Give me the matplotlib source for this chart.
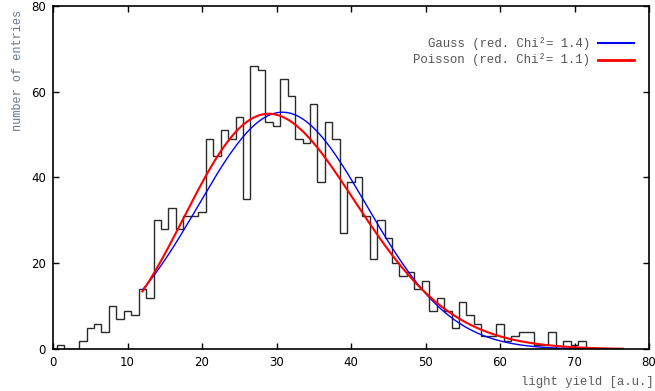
import numpy as np
import matplotlib
matplotlib.use("Agg")
import matplotlib.pyplot as plt
from matplotlib.lines import Line2D
from math import lgamma, log, exp

# ---- data ----
bin_centers = list(range(0, 72))
counts = [0, 1, 0, 0, 2, 5, 6, 4, 10, 7, 9, 8, 14, 12, 30, 28, 33, 28, 31, 31,
          32, 49, 45, 51, 49, 54, 35, 66, 65, 53, 52, 63, 59, 49, 48, 57, 39, 53,
          49, 27, 39, 40, 31, 21, 30, 26, 20, 17, 18, 14, 16, 9, 12, 9, 5, 11,
          8, 6, 3, 3, 6, 2, 3, 4, 4, 1, 1, 4, 0, 2, 1, 2]

# fit model parameters (estimated from the drawn curves)
gauss_amp = 55.2
gauss_mean = 30.8
gauss_sigma = 11.3
poisson_norm = 1550.0
poisson_scale = 4.14
poisson_lambda = 7.5
fit_range = (12.0, 76.5)

legend_labels = ["Gauss (red. Chi\u00b2= 1.4)", "Poisson (red. Chi\u00b2= 1.1)"]
x_ticks = [0, 10, 20, 30, 40, 50, 60, 70, 80]
y_ticks = [0, 20, 40, 60, 80]
x_label = "light yield [a.u.]"
y_label = "number of entries"

# ---- figure ----
W, H = 655, 391
fig = plt.figure(figsize=(W / 100, H / 100), dpi=100)
L, R, T, B = 53, 649, 5.7, 349.3
ax = fig.add_axes([L / W, 1 - B / H, (R - L) / W, (B - T) / H])

edges = np.array(bin_centers + [bin_centers[-1] + 1], dtype=float) - 0.5
ax.stairs(counts, edges, color="#2a2a2a", lw=1.0, baseline=0)

xf = np.linspace(fit_range[0], fit_range[1], 500)
gauss_y = gauss_amp * np.exp(-(xf - gauss_mean) ** 2 / (2 * gauss_sigma ** 2))
pois_y = np.array([poisson_norm / poisson_scale *
                   exp((x / poisson_scale) * log(poisson_lambda) - poisson_lambda
                       - lgamma(x / poisson_scale + 1)) for x in xf])
ax.plot(xf, gauss_y, color="#0000ff", lw=1.0)
ax.plot(xf, pois_y, color="#ff0000", lw=1.5)

ax.set_xlim(0, 80)
ax.set_ylim(0, 80)
ax.set_xticks(x_ticks)
ax.set_yticks(y_ticks)
ax.tick_params(direction="in", length=4.5, width=1.0, top=True, right=True,
               labelsize=8.5, pad=5, colors="black")
for lab in ax.get_xticklabels() + ax.get_yticklabels():
    lab.set_fontfamily("DejaVu Sans")
for s in ax.spines.values():
    s.set_linewidth(1.2)

mono = "Liberation Mono"
fig.text(18 / W, 1 - 70 / H, y_label, rotation=90, ha="center", va="center",
         family=mono, fontsize=8.6, color="#66778a")
fig.text(587 / W, 1 - 381.5 / H, x_label, ha="center", va="center",
         family=mono, fontsize=8.8, color="#5a5a5a")

# legend (gnuplot style: text right-aligned, sample line on the right)
leg_text_x = (590 - L) / (R - L)
leg_line_x0 = (598 - L) / (R - L)
leg_line_x1 = (634 - L) / (R - L)
leg_rows = [(B - 43.3) / (B - T), (B - 60.0) / (B - T)]
for lab, yy, col, lw in zip(legend_labels, leg_rows, ["#0000ff", "#ff0000"], [1.5, 2.0]):
    ax.text(leg_text_x, yy, lab, transform=ax.transAxes, ha="right", va="center",
            family=mono, fontsize=8.9, color="#555555")
    ax.add_line(Line2D([leg_line_x0, leg_line_x1], [yy, yy], transform=ax.transAxes,
                       color=col, lw=lw))

fig.savefig("out.png", dpi=100)
